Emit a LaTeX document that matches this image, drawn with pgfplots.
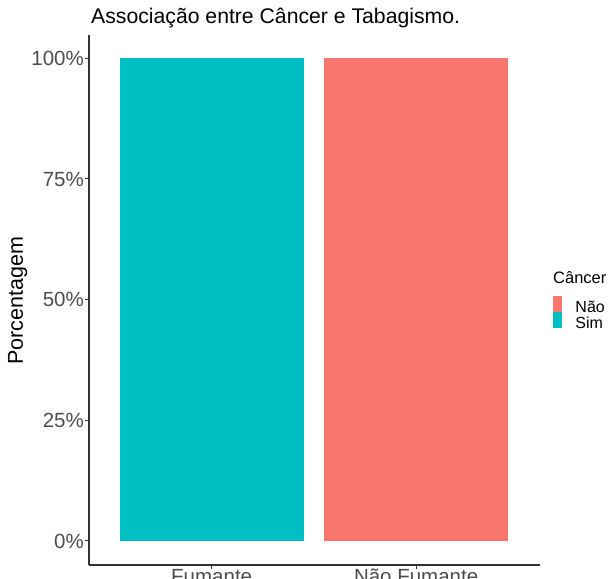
\documentclass[border=0pt]{standalone}
\usepackage{fontspec}
\setmainfont{Liberation Sans}
\usepackage{pgfplots}
\pgfplotsset{compat=1.18}

\definecolor{simcol}{HTML}{00BFC4}
\definecolor{naocol}{HTML}{F8766D}
\definecolor{tickgray}{HTML}{4D4D4D}

\begin{document}
\begin{tikzpicture}
\path[use as bounding box] (0pt,0pt) rectangle (610pt,-578pt);
\clip (0pt,0pt) rectangle (610pt,-578pt);
\begin{axis}[
    at={(89pt,-565pt)}, anchor=south west,
    scale only axis,
    width=451pt, height=530pt,
    ybar stacked,
    bar width=0.9,
    xmin=0.4, xmax=2.606,
    ymin=-0.05, ymax=1.048,
    axis x line*=bottom,
    axis y line*=left,
    axis line style={black!80, line width=1.1pt},
    tick style={black!80, line width=1pt},
    tick align=outside,
    major tick length=4pt,
    xtick={1,2},
    xticklabels={Fumante,Não Fumante},
    ytick={0,0.25,0.5,0.75,1},
    yticklabels={0\%,25\%,50\%,75\%,100\%},
    ticklabel style={font=\fontsize{20.5}{24}\selectfont, text=tickgray, inner sep=0pt},
    yticklabel style={anchor=base east, xshift=-1pt, yshift=-7.3pt},
    xticklabel style={anchor=base, yshift=-14pt},
    title={Associação entre Câncer e Tabagismo.},
    title style={at={(axis description cs:0,1)}, anchor=base west,
        inner sep=0pt, xshift=2pt, yshift=5pt,
        font=\fontsize{21.2}{25}\selectfont},
    ylabel={Porcentagem},
    every axis y label/.style={at={(axis description cs:0,0.5)}, rotate=90,
        anchor=base, inner sep=0pt, xshift=-1pt, yshift=66pt,
        font=\fontsize{21.5}{26}\selectfont},
    reverse legend,
    legend cell align=left,
    legend style={draw=none, fill=none, inner sep=0pt, outer sep=0pt,
        at={(axis description cs:1.0288,0.5075)}, anchor=north west,
        column sep=13pt, row sep=0pt,
        nodes={inner sep=0pt, text height=16pt, text depth=0pt,
            font=\fontsize{16}{19}\selectfont}},
    legend image code/.code={\fill[#1] (0pt,-8pt) rectangle (9.5pt,8pt);},
]
\addplot[fill=simcol, draw=none] coordinates {(1,1) (2,0)};
\addlegendentry{Sim}
\addplot[fill=naocol, draw=none] coordinates {(1,0) (2,1)};
\addlegendentry{Não}
\end{axis}
\node[anchor=base west, inner sep=0pt, font=\fontsize{16.5}{19}\selectfont] at (553pt,-283pt) {Câncer};
\end{tikzpicture}
\end{document}
